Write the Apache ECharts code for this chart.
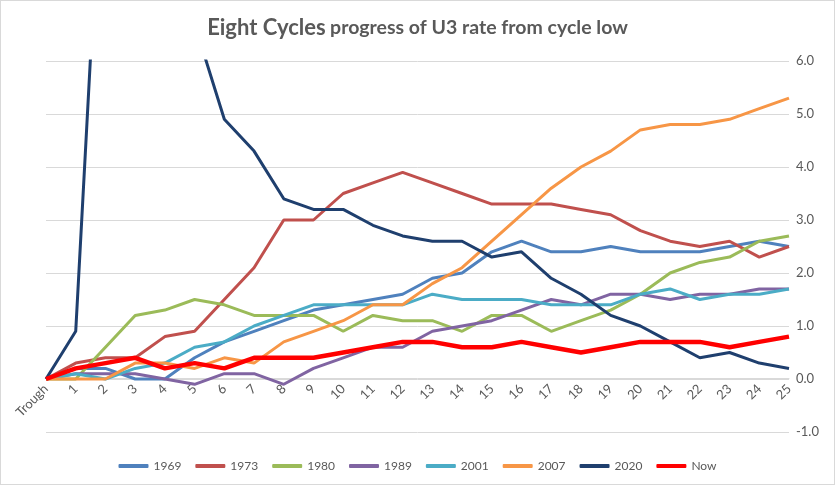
<!DOCTYPE html>
<html>
<head>
<meta charset="utf-8">
<script src="https://cdn.jsdelivr.net/npm/echarts@6/dist/echarts.min.js"></script>
<style>
html,body{margin:0;padding:0;background:#fff;}
#c{width:835px;height:485px;box-sizing:border-box;border:1px solid #d9d9d9;}
</style>
</head>
<body>
<div id="c"></div>
<script>
const categories = ['Trough','1','2','3','4','5','6','7','8','9','10','11','12','13','14','15','16','17','18','19','20','21','22','23','24','25'];
const s1969 = [0,0.2,0.2,0.0,0.0,0.4,0.7,0.9,1.1,1.3,1.4,1.5,1.6,1.9,2.0,2.4,2.6,2.4,2.4,2.5,2.4,2.4,2.4,2.5,2.6,2.5];
const s1973 = [0,0.3,0.4,0.4,0.8,0.9,1.5,2.1,3.0,3.0,3.5,3.7,3.9,3.7,3.5,3.3,3.3,3.3,3.2,3.1,2.8,2.6,2.5,2.6,2.3,2.5];
const s1980 = [0,0.0,0.6,1.2,1.3,1.5,1.4,1.2,1.2,1.2,0.9,1.2,1.1,1.1,0.9,1.2,1.2,0.9,1.1,1.3,1.6,2.0,2.2,2.3,2.6,2.7];
const s1989 = [0,0.1,0.1,0.1,0.0,-0.1,0.1,0.1,-0.1,0.2,0.4,0.6,0.6,0.9,1.0,1.1,1.3,1.5,1.4,1.6,1.6,1.5,1.6,1.6,1.7,1.7];
const s2001 = [0,0.1,0.0,0.2,0.3,0.6,0.7,1.0,1.2,1.4,1.4,1.4,1.4,1.6,1.5,1.5,1.5,1.4,1.4,1.4,1.6,1.7,1.5,1.6,1.6,1.7];
const s2007 = [0,0.0,0.0,0.3,0.3,0.2,0.4,0.3,0.7,0.9,1.1,1.4,1.4,1.8,2.1,2.6,3.1,3.6,4.0,4.3,4.7,4.8,4.8,4.9,5.1,5.3];
const s2020 = [0,0.9,11.3,9.7,7.5,6.7,4.9,4.3,3.4,3.2,3.2,2.9,2.7,2.6,2.6,2.3,2.4,1.9,1.6,1.2,1.0,0.7,0.4,0.5,0.3,0.2];
const sNow  = [0,0.2,0.3,0.4,0.2,0.3,0.2,0.4,0.4,0.4,0.5,0.6,0.7,0.7,0.6,0.6,0.7,0.6,0.5,0.6,0.7,0.7,0.7,0.6,0.7,0.8];
const seriesNames = ['1969','1973','1980','1989','2001','2007','2020','Now'];
const seriesData = [s1969,s1973,s1980,s1989,s2001,s2007,s2020,sNow];
const colors = ['#4F81BD','#C0504D','#9BBB59','#8064A2','#4BACC6','#F79646','#1F3F6E','#FF0000'];

const FONT = 'Lato, "Open Sans", sans-serif';
const Y_MIN = -1, Y_MAX = 6;
const GRID_TOP = 60, GRID_BOTTOM = 52, H = 485;
const unitPx = (H - GRID_TOP - GRID_BOTTOM) / (Y_MAX - Y_MIN);

const chart = echarts.init(document.getElementById('c'));
chart.setOption({
  animation: false,
  color: colors,
  textStyle: {fontFamily: FONT},
  title: {
    left: 'center',
    top: 11,
    text: '{a|Eight Cycles} {b|progress of U3 rate from cycle low}',
    textStyle: {
      rich: {
        a: {fontSize: 22, fontWeight: 'bold', color: '#595959', fontFamily: FONT},
        b: {fontSize: 19.5, fontWeight: 'bold', color: '#595959', fontFamily: FONT}
      }
    }
  },
  legend: {
    bottom: 7,
    left: 'center',
    itemWidth: 30,
    itemHeight: 4,
    itemGap: 14,
    icon: 'roundRect',
    textStyle: {fontSize: 12, color: '#595959', fontFamily: FONT},
    data: seriesNames
  },
  grid: {left: 45, right: 45, top: GRID_TOP, bottom: GRID_BOTTOM},
  xAxis: {
    type: 'category',
    data: categories,
    boundaryGap: false,
    offset: -(0 - Y_MIN) * unitPx,
    axisLine: {onZero: false, lineStyle: {color: '#d9d9d9'}},
    axisTick: {show: false},
    axisLabel: {rotate: 45, fontSize: 13, color: '#595959', margin: 8, interval: 0}
  },
  yAxis: {
    type: 'value',
    position: 'right',
    min: Y_MIN, max: Y_MAX, interval: 1,
    axisLine: {show: false},
    axisTick: {show: false},
    axisLabel: {fontSize: 13, color: '#595959', margin: 7, formatter: v => v.toFixed(1)},
    splitLine: {lineStyle: {color: '#d9d9d9', width: 1}}
  },
  series: seriesNames.map((n, i) => ({
    name: n,
    type: 'line',
    data: seriesData[i],
    symbol: 'none',
    clip: true,
    lineStyle: {width: n === 'Now' ? 4.5 : 3, color: colors[i]},
    itemStyle: {color: colors[i]}
  }))
});
</script>
</body>
</html>
